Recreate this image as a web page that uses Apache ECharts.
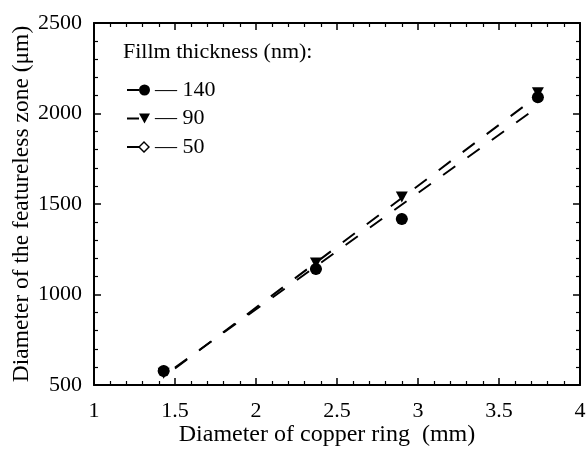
<!DOCTYPE html>
<html>
<head>
<meta charset="utf-8">
<script src="https://cdn.jsdelivr.net/npm/echarts@6/dist/echarts.min.js"></script>
<style>html,body{margin:0;padding:0;background:#fff;}#c{width:587px;height:458px;}</style>
</head>
<body>
<div id="c"></div>
<script>
// ---- data ----
const ringDiameter = [1.43, 2.37, 2.9, 3.74];          // mm
const zone140 = [577, 1141, 1417, 2090];               // µm, 140 nm film
const zone90  = [565, 1174, 1539, 2115];               // µm, 90 nm film
const zone50  = [577, 1141, 1417, 2090];               // µm, 50 nm film (hidden beneath)
const fitLowX = [1.5, 3.74],  fitLowY = [597, 2036];   // dashed fit line 1
const fitHighX = [1.5, 3.73], fitHighY = [591, 2092];  // dashed fit line 2
const seriesNames = ['140', '90', '50'];
const legendTitle = 'Fillm thickness (nm):';
const xTitle = 'Diameter of copper ring  (mm)';
const yTitle = 'Diameter of the featureless zone (\u03bcm)';

const FONT = 'Liberation Serif';
const pair = (xs, ys) => xs.map((x, i) => [x, ys[i]]);

const tri = 'path://M0,0 L10,0 L5,9 Z';
const iconCircle = 'path://M0,5 L12,5 L12,7 L0,7 Z M12,6 A5.5,5.5 0 1 0 23,6 A5.5,5.5 0 1 0 12,6 Z';
const iconTri = 'path://M0,5 L12,5 L12,7 L0,7 Z M12,1 L23,1 L17.5,11 Z';
const iconDia = 'path://M0,5 L12,5 L12,7 L0,7 Z M11,6 L17,0 L23,6 L17,12 Z M13,6 L17,10 L21,6 L17,2 Z';

const axisCommon = {
  type: 'value',
  axisLine: { show: true, onZero: false, lineStyle: { color: '#000', width: 2 } },
  axisTick: { show: true, inside: true, length: 7, lineStyle: { color: '#000', width: 1.5 } },
  minorTick: { show: true, splitNumber: 5, length: 4, lineStyle: { color: '#000', width: 1.2 } },
  splitLine: { show: false },
  minorSplitLine: { show: false }
};

const chart = echarts.init(document.getElementById('c'), null, { renderer: 'canvas' });
chart.setOption({
  animation: false,
  backgroundColor: '#fff',
  title: {
    text: legendTitle, left: 123, top: 41, padding: 0,
    textStyle: { fontFamily: FONT, fontSize: 22, fontWeight: 'normal', color: '#000' }
  },
  legend: {
    orient: 'vertical', left: 127, top: 79, itemGap: 6.5, padding: 0,
    itemWidth: 23, itemHeight: 12,
    textStyle: { fontFamily: FONT, fontSize: 22, color: '#000' },
    formatter: n => '\u2014 ' + n,
    data: [
      { name: seriesNames[0], icon: iconCircle, itemStyle: { color: '#000', borderWidth: 0, opacity: 1 } },
      { name: seriesNames[1], icon: iconTri, itemStyle: { color: '#000', borderWidth: 0, opacity: 1 } },
      { name: seriesNames[2], icon: iconDia, itemStyle: { color: '#000', borderWidth: 0, opacity: 1 } }
    ]
  },
  grid: { left: 94, right: 7, top: 23, bottom: 73, containLabel: false, outerBoundsMode: 'none' },
  xAxis: [
    Object.assign({}, axisCommon, {
      position: 'bottom', min: 1, max: 4, interval: 0.5,
      axisLabel: { fontFamily: FONT, fontSize: 22, color: '#000', margin: 15 },
      name: xTitle, nameLocation: 'middle', nameGap: 38, nameMoveOverlap: false,
      nameTextStyle: { fontFamily: FONT, fontSize: 24, color: '#000', padding: [0, 20, 0, 0] }
    }),
    Object.assign({}, axisCommon, {
      position: 'top', min: 1, max: 4, interval: 0.5, axisLabel: { show: false }
    })
  ],
  yAxis: [
    Object.assign({}, axisCommon, {
      position: 'left', min: 500, max: 2500, interval: 500,
      axisLabel: { fontFamily: FONT, fontSize: 22, color: '#000', margin: 12, formatter: v => String(v) },
      name: yTitle, nameLocation: 'middle', nameGap: 60, nameMoveOverlap: false,
      nameTextStyle: { fontFamily: FONT, fontSize: 23.5, color: '#000' }
    }),
    Object.assign({}, axisCommon, {
      position: 'right', min: 500, max: 2500, interval: 500, axisLabel: { show: false }
    })
  ],
  series: [
    {
      type: 'line', data: pair(fitLowX, fitLowY), symbol: 'none', silent: true,
      lineStyle: { color: '#000', width: 2, type: [15, 15] }, z: 1
    },
    {
      type: 'line', data: pair(fitHighX, fitHighY), symbol: 'none', silent: true,
      lineStyle: { color: '#000', width: 2, type: [15, 15] }, z: 1
    },
    {
      name: seriesNames[2], type: 'scatter', data: pair(ringDiameter, zone50),
      symbol: 'diamond', symbolSize: 10,
      itemStyle: { color: '#fff', borderColor: '#000', borderWidth: 1.5, opacity: 1 }, z: 2
    },
    {
      name: seriesNames[1], type: 'scatter', data: pair(ringDiameter, zone90),
      symbol: tri, symbolSize: [12, 11], itemStyle: { color: '#000', opacity: 1 }, z: 3
    },
    {
      name: seriesNames[0], type: 'scatter', data: pair(ringDiameter, zone140),
      symbol: 'circle', symbolSize: 12, itemStyle: { color: '#000', opacity: 1 }, z: 4
    }
  ]
});
</script>
</body>
</html>
